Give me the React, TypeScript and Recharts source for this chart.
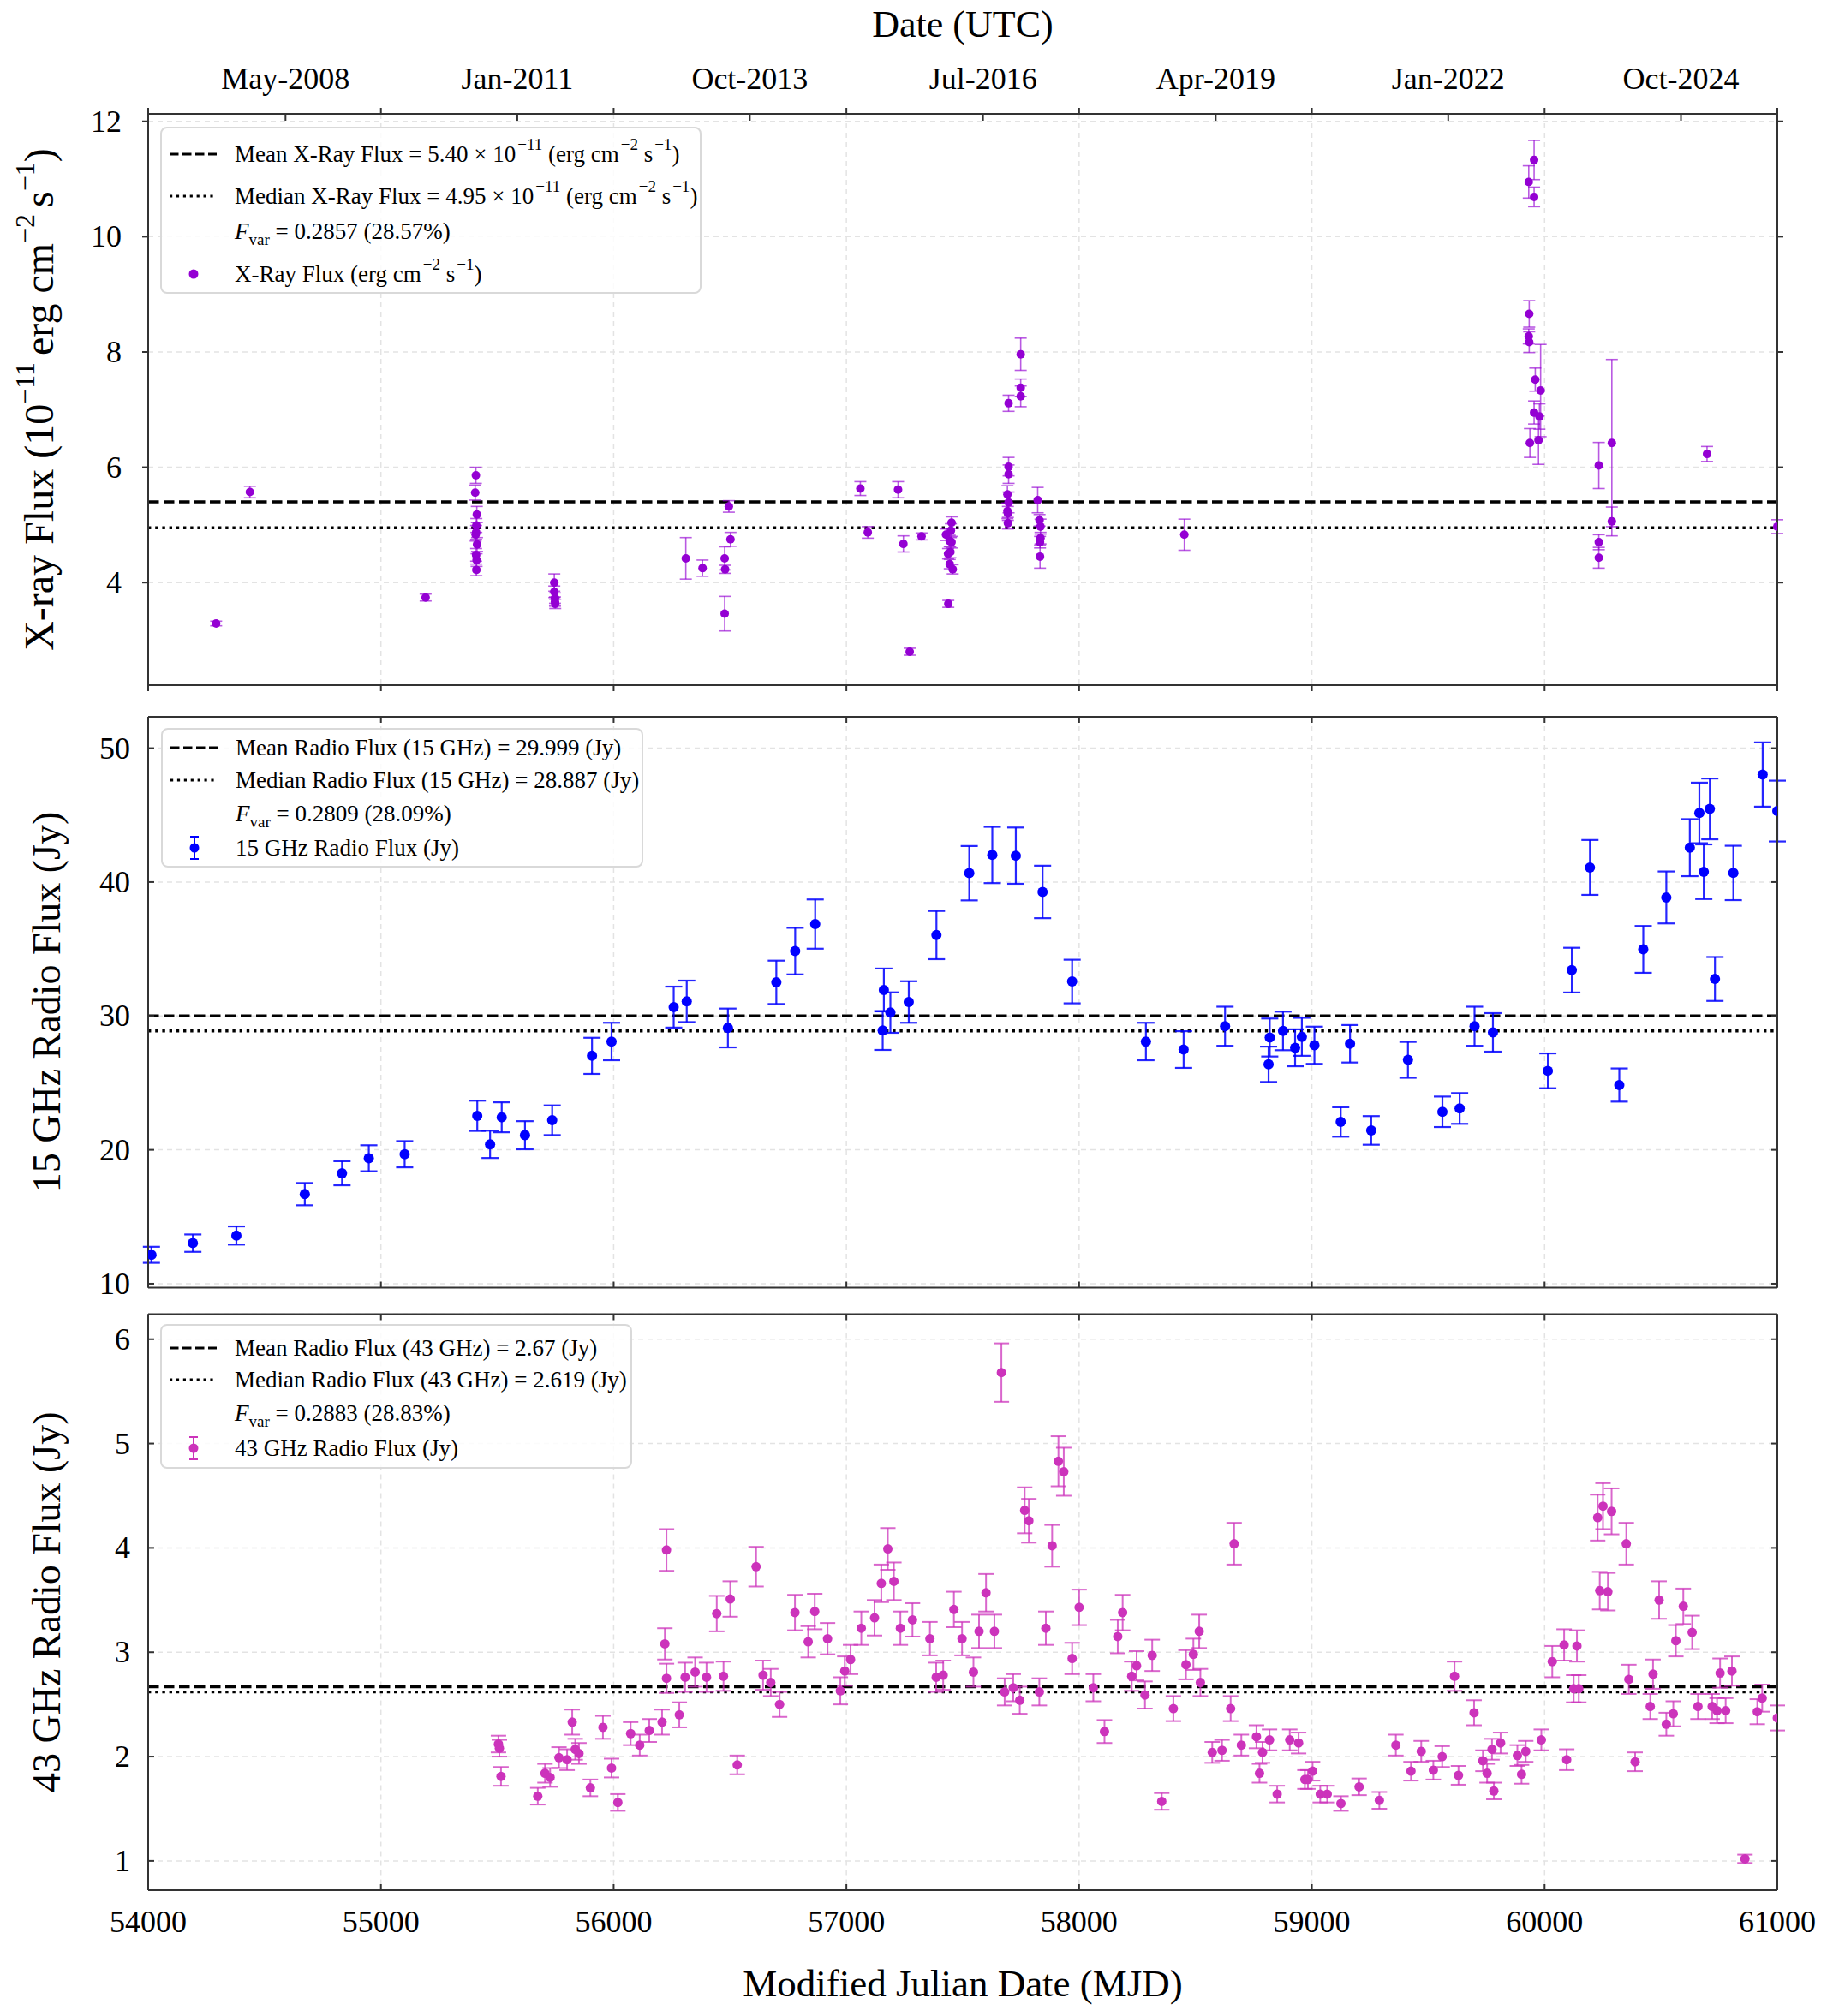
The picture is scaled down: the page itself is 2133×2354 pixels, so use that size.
import React from "react";
import {
  ScatterChart,
  Scatter,
  XAxis,
  YAxis,
  CartesianGrid,
  ErrorBar,
  ReferenceLine,
  Legend,
} from "recharts";

const SERIF = '"Liberation Serif", "Times New Roman", serif';
const FRAME = "#333333";
const GRID = "#e3e3e3";

// [MJD, flux, error]
const xrayPoints = [
  [54292, 3.29, 0.04], [54437, 5.57, 0.1], [55192, 3.74, 0.06],
  [55408, 5.86, 0.14], [55405, 5.56, 0.13], [55412, 5.18, 0.14], [55410, 4.99, 0.12],
  [55409, 4.87, 0.12], [55407, 4.83, 0.11], [55413, 4.66, 0.12], [55409, 4.48, 0.11],
  [55411, 4.39, 0.11], [55410, 4.22, 0.1],
  [55745, 4.0, 0.15], [55745, 3.84, 0.1], [55748, 3.73, 0.09], [55748, 3.67, 0.08], [55749, 3.63, 0.08],
  [56310, 4.42, 0.36], [56382, 4.25, 0.14], [56477, 4.42, 0.2], [56479, 4.23, 0.07],
  [56477, 3.46, 0.3], [56495, 5.32, 0.1], [56502, 4.75, 0.12],
  [57060, 5.63, 0.12], [57092, 4.87, 0.1], [57222, 5.61, 0.14], [57245, 4.67, 0.14],
  [57272, 2.8, 0.06], [57323, 4.8, 0.06],
  [57428, 4.83, 0.1], [57438, 3.63, 0.06], [57444, 4.72, 0.1], [57447, 4.53, 0.1],
  [57444, 4.32, 0.08], [57457, 4.23, 0.08], [57452, 5.04, 0.1], [57449, 4.9, 0.12],
  [57437, 4.5, 0.09], [57452, 4.7, 0.1],
  [57697, 7.11, 0.14], [57697, 6.01, 0.16], [57697, 5.88, 0.16], [57692, 5.53, 0.15],
  [57692, 5.24, 0.13], [57694, 5.2, 0.12], [57694, 5.03, 0.1], [57697, 5.39, 0.18],
  [57749, 7.96, 0.28], [57749, 7.38, 0.15], [57749, 7.23, 0.18],
  [57822, 5.43, 0.22], [57830, 5.08, 0.1], [57834, 4.97, 0.13], [57834, 4.77, 0.1],
  [57832, 4.7, 0.1], [57832, 4.45, 0.2],
  [58452, 4.83, 0.27],
  [59932, 10.95, 0.28], [59955, 11.33, 0.34], [59955, 10.69, 0.17], [59934, 8.66, 0.23],
  [59932, 8.27, 0.13], [59934, 8.17, 0.18], [59960, 7.52, 0.2], [59983, 7.33, 0.8],
  [59955, 6.95, 0.2], [59978, 6.88, 0.22], [59937, 6.42, 0.25], [59974, 6.47, 0.42],
  [60233, 6.03, 0.4], [60233, 4.7, 0.13], [60233, 4.43, 0.18],
  [60289, 6.42, 1.45], [60289, 5.06, 0.25], [60698, 6.23, 0.13], [61000, 4.97, 0.12],
];

const radio15Points = [
  [54014, 12.16, 0.6], [54192, 13.03, 0.65], [54379, 13.6, 0.68], [54673, 16.69, 0.83],
  [54833, 18.25, 0.9], [54948, 19.37, 0.97], [55102, 19.67, 0.98], [55414, 22.54, 1.13],
  [55469, 20.41, 1.02], [55519, 22.43, 1.12], [55619, 21.09, 1.05], [55736, 22.21, 1.11],
  [55907, 27.02, 1.35], [55991, 28.09, 1.4], [56258, 30.66, 1.53], [56314, 31.09, 1.55],
  [56491, 29.1, 1.45], [56699, 32.51, 1.62], [56780, 34.84, 1.74], [56866, 36.86, 1.84],
  [57156, 28.91, 1.45], [57161, 31.94, 1.6], [57189, 30.25, 1.51], [57268, 31.04, 1.55],
  [57387, 36.04, 1.8], [57528, 40.66, 2.03], [57627, 42.02, 2.1], [57728, 41.97, 2.1],
  [57843, 39.26, 1.96], [57970, 32.57, 1.63], [58287, 28.09, 1.4], [58449, 27.49, 1.37],
  [58627, 29.23, 1.46], [58814, 26.39, 1.32], [58819, 28.39, 1.42], [58876, 28.88, 1.44],
  [58928, 27.62, 1.38], [58957, 28.44, 1.42], [59011, 27.81, 1.39], [59124, 22.08, 1.1],
  [59164, 27.92, 1.4], [59255, 21.45, 1.07], [59413, 26.72, 1.34], [59561, 22.84, 1.14],
  [59635, 23.09, 1.15], [59699, 29.23, 1.46], [59778, 28.77, 1.44], [60014, 25.9, 1.3],
  [60117, 33.42, 1.67], [60195, 41.09, 2.05], [60321, 24.84, 1.24], [60424, 34.97, 1.75],
  [60523, 38.85, 1.94], [60624, 42.57, 2.13], [60665, 45.16, 2.26], [60684, 40.77, 2.04],
  [60710, 45.46, 2.27], [60732, 32.76, 1.64], [60811, 40.68, 2.03], [60937, 48.03, 2.4],
  [61000, 45.3, 2.27],
];

const radio43Points = [
  [55505, 2.12, 0.08], [55509, 2.08, 0.08], [55516, 1.81, 0.09], [55674, 1.62, 0.08],
  [55705, 1.84, 0.09], [55727, 1.8, 0.09], [55765, 1.99, 0.1], [55800, 1.97, 0.1],
  [55822, 2.33, 0.12], [55835, 2.07, 0.1], [55851, 2.03, 0.1], [55900, 1.7, 0.08],
  [55954, 2.28, 0.11], [55991, 1.89, 0.09], [56018, 1.56, 0.08], [56073, 2.22, 0.11],
  [56112, 2.11, 0.1], [56153, 2.25, 0.11], [56208, 2.33, 0.12], [56220, 3.08, 0.15],
  [56227, 3.98, 0.2], [56227, 2.75, 0.14], [56282, 2.4, 0.12], [56307, 2.76, 0.14],
  [56350, 2.81, 0.14], [56399, 2.76, 0.14], [56443, 3.37, 0.17], [56472, 2.77, 0.14],
  [56501, 3.51, 0.17], [56531, 1.92, 0.09], [56612, 3.82, 0.19], [56642, 2.78, 0.14],
  [56675, 2.71, 0.13], [56713, 2.5, 0.12], [56779, 3.38, 0.17], [56836, 3.1, 0.15],
  [56864, 3.39, 0.17], [56919, 3.13, 0.15], [56974, 2.63, 0.13], [56993, 2.82, 0.14],
  [57018, 2.93, 0.14], [57064, 3.23, 0.16], [57121, 3.33, 0.17], [57150, 3.66, 0.18],
  [57178, 3.99, 0.2], [57204, 3.68, 0.18], [57232, 3.23, 0.16], [57284, 3.31, 0.16],
  [57359, 3.13, 0.16], [57386, 2.76, 0.14], [57416, 2.78, 0.14], [57462, 3.41, 0.17],
  [57497, 3.13, 0.16], [57546, 2.81, 0.14], [57570, 3.2, 0.16], [57600, 3.57, 0.18],
  [57636, 3.2, 0.16], [57666, 5.68, 0.28], [57680, 2.62, 0.13], [57717, 2.66, 0.13],
  [57745, 2.54, 0.13], [57766, 4.36, 0.22], [57784, 4.26, 0.21], [57829, 2.62, 0.13],
  [57857, 3.23, 0.16], [57884, 4.02, 0.2], [57911, 4.83, 0.24], [57934, 4.73, 0.23],
  [57970, 2.94, 0.15], [58000, 3.43, 0.17], [58061, 2.66, 0.13], [58109, 2.24, 0.11],
  [58166, 3.15, 0.16], [58187, 3.38, 0.17], [58226, 2.77, 0.14], [58247, 2.87, 0.14],
  [58283, 2.59, 0.13], [58314, 2.97, 0.15], [58355, 1.57, 0.08], [58405, 2.46, 0.12],
  [58459, 2.88, 0.14], [58491, 2.98, 0.15], [58516, 3.2, 0.16], [58521, 2.71, 0.13],
  [58572, 2.04, 0.1], [58614, 2.06, 0.1], [58651, 2.46, 0.12], [58666, 4.04, 0.2],
  [58697, 2.11, 0.1], [58762, 2.19, 0.11], [58775, 1.84, 0.09], [58788, 2.04, 0.1],
  [58818, 2.16, 0.1], [58851, 1.64, 0.08], [58905, 2.16, 0.1], [58943, 2.13, 0.1],
  [58970, 1.78, 0.09], [58983, 1.78, 0.09], [59003, 1.86, 0.09], [59036, 1.64, 0.08],
  [59066, 1.64, 0.08], [59125, 1.55, 0.07], [59203, 1.71, 0.08], [59290, 1.58, 0.08],
  [59361, 2.11, 0.1], [59426, 1.86, 0.09], [59470, 2.05, 0.1], [59522, 1.87, 0.09],
  [59560, 2.0, 0.1], [59613, 2.77, 0.14], [59630, 1.82, 0.09], [59697, 2.42, 0.12],
  [59735, 1.96, 0.1], [59753, 1.84, 0.09], [59774, 2.07, 0.1], [59782, 1.67, 0.08],
  [59811, 2.13, 0.1], [59883, 2.01, 0.1], [59901, 1.83, 0.09], [59919, 2.05, 0.1],
  [59986, 2.16, 0.1], [60033, 2.91, 0.15], [60084, 3.07, 0.15], [60095, 1.97, 0.1],
  [60125, 2.65, 0.13], [60139, 3.06, 0.15], [60147, 2.65, 0.13], [60228, 4.29, 0.22],
  [60237, 3.59, 0.18], [60251, 4.4, 0.22], [60272, 3.58, 0.18], [60288, 4.35, 0.22],
  [60351, 4.04, 0.2], [60362, 2.74, 0.14], [60389, 1.95, 0.09], [60454, 2.48, 0.12],
  [60466, 2.79, 0.14], [60492, 3.5, 0.18], [60523, 2.31, 0.11], [60553, 2.41, 0.12],
  [60564, 3.11, 0.15], [60596, 3.44, 0.17], [60634, 3.19, 0.16], [60659, 2.48, 0.12],
  [60720, 2.48, 0.12], [60741, 2.44, 0.12], [60754, 2.8, 0.14], [60778, 2.44, 0.12],
  [60805, 2.82, 0.14], [60861, 1.02, 0.04], [60914, 2.43, 0.12], [60935, 2.56, 0.13],
  [61000, 2.37, 0.12],
];

const mjdTicks = [54000, 55000, 56000, 57000, 58000, 59000, 60000, 61000];
const dateTicks = [54590, 55586, 56585, 57587, 58587, 59586, 60586];
const dateLabels = ["May-2008", "Jan-2011", "Oct-2013", "Jul-2016", "Apr-2019", "Jan-2022", "Oct-2024"];

const xrayTicks = [4, 6, 8, 10, 12];
const radio15Ticks = [10, 20, 30, 40, 50];
const radio43Ticks = [1, 2, 3, 4, 5, 6];

const xrayMean = 5.4;
const xrayMedian = 4.95;
const radio15Mean = 29.999;
const radio15Median = 28.887;
const radio43Mean = 2.67;
const radio43Median = 2.619;

const toRows = (pts: number[][]) => pts.map(([mjd, flux, err]) => ({ mjd, flux, err }));

const TICK = 7;

const makeYTick = (side: "left" | "right", inward: boolean, labelGap: number | null) => (props: any) => {
  const { x, y, payload } = props;
  const dir = side === "left" ? 1 : -1;
  const x2 = inward ? x + dir * TICK : x - dir * TICK;
  return (
    <g>
      <line x1={x} y1={y} x2={x2} y2={y} stroke={FRAME} strokeWidth={2} />
      {labelGap !== null && (
        <text x={x - labelGap} y={y + 12} textAnchor="end" fontSize={36} fontFamily={SERIF} fill="#000">
          {payload.value}
        </text>
      )}
    </g>
  );
};

const makeBottomTick = (inward: boolean, showLabel: boolean) => (props: any) => {
  const { x, y, payload } = props;
  return (
    <g>
      <line x1={x} y1={y} x2={x} y2={inward ? y - TICK : y + TICK} stroke={FRAME} strokeWidth={2} />
      {showLabel && (
        <text x={x} y={y + 49} textAnchor="middle" fontSize={36} fontFamily={SERIF} fill="#000">
          {payload.value}
        </text>
      )}
    </g>
  );
};

// top axis: dates (inward, labelled) and MJD thousands (outward on panel 1, inward elsewhere)
const makeTopTick = (withDates: boolean) => (props: any) => {
  const { x, y, payload } = props;
  const di = dateTicks.indexOf(Number(payload.value));
  if (withDates && di >= 0) {
    return (
      <g>
        <line x1={x} y1={y} x2={x} y2={y + 8} stroke={FRAME} strokeWidth={2} />
        <text x={x} y={y - 29} textAnchor="middle" fontSize={36} fontFamily={SERIF} fill="#000">
          {dateLabels[di]}
        </text>
      </g>
    );
  }
  return (
    <g>
      <line x1={x} y1={y} x2={x} y2={withDates ? y - TICK : y + TICK} stroke={FRAME} strokeWidth={2} />
    </g>
  );
};

const supStyle: React.CSSProperties = { fontSize: 19, verticalAlign: "0.75em", lineHeight: 0, marginLeft: 2 };
const subStyle: React.CSSProperties = { fontSize: 19, verticalAlign: "-0.35em", lineHeight: 0 };

const units = (
  <>
    (erg cm<sup style={supStyle}>−2</sup> s<sup style={supStyle}>−1</sup>)
  </>
);
const fvar = (v: string) => (
  <>
    <i>F</i>
    <sub style={subStyle}>var</sub> = {v}
  </>
);

type Handle = "dash" | "dot" | "none" | "marker" | "markerErr";
type LegendRow = { handle: Handle; y: number; text: React.ReactNode };

function LegendBox({ width, height, rows, color }: { width: number; height: number; rows: LegendRow[]; color: string }) {
  return (
    <div
      style={{
        position: "relative",
        width,
        height,
        boxSizing: "border-box",
        border: "2px solid #d9d9d9",
        borderRadius: 8,
        background: "rgba(255,255,255,0.85)",
        fontFamily: SERIF,
        fontSize: 27,
        color: "#000",
      }}
    >
      {rows.map((r, i) => (
        <div key={i} style={{ position: "absolute", left: 0, top: r.y - 16, height: 32, width: "100%" }}>
          <svg width={80} height={32} style={{ position: "absolute", left: 0, top: 0 }}>
            {r.handle === "dash" && (
              <line x1={9} x2={64} y1={16} y2={16} stroke="#000" strokeWidth={3.2} strokeDasharray="10.5 4.5" />
            )}
            {r.handle === "dot" && (
              <line x1={9} x2={64} y1={16} y2={16} stroke="#000" strokeWidth={3.2} strokeDasharray="3.2 4.7" />
            )}
            {(r.handle === "marker" || r.handle === "markerErr") && <circle cx={37} cy={16} r={5.5} fill={color} />}
            {r.handle === "markerErr" && (
              <g stroke={color} strokeWidth={2}>
                <line x1={37} x2={37} y1={3} y2={29} />
                <line x1={32} x2={42} y1={3} y2={3} />
                <line x1={32} x2={42} y1={29} y2={29} />
              </g>
            )}
          </svg>
          <div style={{ position: "absolute", left: 85, top: 0, lineHeight: "32px", whiteSpace: "nowrap" }}>{r.text}</div>
        </div>
      ))}
    </div>
  );
}

const legendProps = {
  layout: "vertical" as const,
  align: "center" as const,
  verticalAlign: "middle" as const,
};

const axisLine = { stroke: FRAME, strokeWidth: 2 };

type PanelProps = {
  top: number;
  height: number;
  margin: { top: number; bottom: number };
  topAxisHeight: number;
  bottomAxisHeight: number;
  data: { mjd: number; flux: number; err: number }[];
  domain: [number, number];
  yTicks: number[];
  mean: number;
  median: number;
  color: string;
  radius: number;
  capWidth: number;
  errWidth: number;
  errOpacity: number;
  ticksOut: boolean;
  showDates: boolean;
  showMjdLabels: boolean;
  yTitle: React.ReactNode;
  xTitle?: React.ReactNode;
  legend: React.ReactNode;
  legendBox: { left: number; top: number; width: number; height: number };
};

function Panel(p: PanelProps) {
  const topTicks = p.showDates ? [...mjdTicks, ...dateTicks].sort((a, b) => a - b) : mjdTicks;
  return (
    <div style={{ position: "absolute", left: 0, top: p.top }}>
      <ScatterChart width={2133} height={p.height} margin={{ top: p.margin.top, bottom: p.margin.bottom, left: 93, right: 28 }}>
        <CartesianGrid xAxisId="bottom" yAxisId="left" stroke={GRID} strokeWidth={1.5} strokeDasharray="6 5" />
        <XAxis
          xAxisId="bottom"
          type="number"
          dataKey="mjd"
          domain={[54000, 61000]}
          allowDataOverflow
          ticks={mjdTicks}
          interval={0}
          height={p.bottomAxisHeight}
          tickSize={0}
          tickMargin={0}
          tickLine={false}
          axisLine={axisLine}
          tick={makeBottomTick(!p.ticksOut, p.showMjdLabels)}
          label={p.xTitle ? { content: () => p.xTitle } : undefined}
        />
        <XAxis
          xAxisId="top"
          orientation="top"
          type="number"
          dataKey="mjd"
          domain={[54000, 61000]}
          allowDataOverflow
          ticks={topTicks}
          interval={0}
          height={p.topAxisHeight}
          tickSize={0}
          tickMargin={0}
          tickLine={false}
          axisLine={axisLine}
          tick={makeTopTick(p.showDates)}
          label={
            p.showDates
              ? {
                  content: () => (
                    <text x={1124} y={43} textAnchor="middle" fontSize={44} fontFamily={SERIF} fill="#000">
                      Date (UTC)
                    </text>
                  ),
                }
              : undefined
          }
        />
        <YAxis
          yAxisId="left"
          type="number"
          dataKey="flux"
          domain={p.domain}
          allowDataOverflow
          ticks={p.yTicks}
          interval={0}
          width={80}
          tickSize={0}
          tickMargin={0}
          tickLine={false}
          axisLine={axisLine}
          tick={makeYTick("left", !p.ticksOut, p.ticksOut ? 31 : 21)}
          label={{ content: () => p.yTitle }}
        />
        <YAxis
          yAxisId="right"
          orientation="right"
          type="number"
          dataKey="flux"
          domain={p.domain}
          allowDataOverflow
          ticks={p.yTicks}
          interval={0}
          width={30}
          tickSize={0}
          tickMargin={0}
          tickLine={false}
          axisLine={axisLine}
          tick={makeYTick("right", !p.ticksOut, null)}
        />
        <ReferenceLine xAxisId="bottom" yAxisId="left" y={p.mean} stroke="#000" strokeWidth={3.4} strokeDasharray="12.5 5.5" />
        <ReferenceLine xAxisId="bottom" yAxisId="left" y={p.median} stroke="#000" strokeWidth={3.4} strokeDasharray="3.4 4.8" />
        {/* invisible twin so the top and right axes carry the same data */}
        <Scatter
          xAxisId="top"
          yAxisId="right"
          data={p.data}
          dataKey="flux"
          legendType="none"
          isAnimationActive={false}
          shape={() => <g />}
        />
        <Scatter
          xAxisId="bottom"
          yAxisId="left"
          data={p.data}
          dataKey="flux"
          fill={p.color}
          isAnimationActive={false}
          shape={(s: any) => <circle cx={s.cx} cy={s.cy} r={p.radius} fill={p.color} />}
        >
          <ErrorBar
            dataKey="err"
            direction="y"
            width={p.capWidth}
            stroke={p.color}
            strokeWidth={p.errWidth}
            strokeOpacity={p.errOpacity}
            isAnimationActive={false}
          />
        </Scatter>
        <Legend
          {...legendProps}
          wrapperStyle={{ left: p.legendBox.left, top: p.legendBox.top, width: p.legendBox.width, height: p.legendBox.height }}
          content={() => p.legend}
        />
      </ScatterChart>
    </div>
  );
}

const XRAY = "#9400D3";
const BLUE = "#0000FF";
const PINK = "#CC33BB";

const yTitleStyle = { fontFamily: SERIF, fill: "#000" };

export default function App() {
  return (
    <div
      style={{
        position: "absolute",
        left: 0,
        top: 0,
        width: 2133,
        height: 2354,
        background: "#fff",
        fontFamily: SERIF,
        overflow: "hidden",
      }}
    >
      <Panel
        top={0}
        height={840}
        margin={{ top: 93, bottom: 0 }}
        topAxisHeight={40}
        bottomAxisHeight={40}
        data={toRows(xrayPoints)}
        domain={[2.22, 12.13]}
        yTicks={xrayTicks}
        mean={xrayMean}
        median={xrayMedian}
        color={XRAY}
        radius={5}
        capWidth={7}
        errWidth={1.6}
        errOpacity={0.65}
        ticksOut
        showDates
        showMjdLabels={false}
        yTitle={
          <text transform="translate(62, 466.5) rotate(-90)" textAnchor="middle" fontSize={48} {...yTitleStyle}>
            X-ray Flux (10<tspan fontSize={32} dy={-22}>−11</tspan>
            <tspan dy={22} dx={8}>erg cm</tspan>
            <tspan fontSize={32} dy={-22}>−2</tspan>
            <tspan dy={22} dx={8}>s</tspan>
            <tspan fontSize={32} dy={-22}>−1</tspan>
            <tspan dy={22}>)</tspan>
          </text>
        }
        legendBox={{ left: 187, top: 148, width: 632, height: 195 }}
        legend={
          <LegendBox
            width={632}
            height={195}
            color={XRAY}
            rows={[
              { handle: "dash", y: 30, text: <>Mean X-Ray Flux = 5.40 × 10<sup style={supStyle}>−11</sup> {units}</> },
              { handle: "dot", y: 79, text: <>Median X-Ray Flux = 4.95 × 10<sup style={supStyle}>−11</sup> {units}</> },
              { handle: "none", y: 120, text: fvar("0.2857 (28.57%)") },
              { handle: "marker", y: 170, text: <>X-Ray Flux {units}</> },
            ]}
          />
        }
      />
      <Panel
        top={800}
        height={740}
        margin={{ top: 7, bottom: 6.5 }}
        topAxisHeight={30}
        bottomAxisHeight={30}
        data={toRows(radio15Points)}
        domain={[9.71, 52.34]}
        yTicks={radio15Ticks}
        mean={radio15Mean}
        median={radio15Median}
        color={BLUE}
        radius={6}
        capWidth={10}
        errWidth={2.2}
        errOpacity={0.85}
        ticksOut={false}
        showDates={false}
        showMjdLabels={false}
        yTitle={
          <text transform="translate(70, 370) rotate(-90)" textAnchor="middle" fontSize={46} {...yTitleStyle}>
            15 GHz Radio Flux (Jy)
          </text>
        }
        legendBox={{ left: 188, top: 50, width: 563, height: 163 }}
        legend={
          <LegendBox
            width={563}
            height={163}
            color={BLUE}
            rows={[
              { handle: "dash", y: 21, text: "Mean Radio Flux (15 GHz) = 29.999 (Jy)" },
              { handle: "dot", y: 59, text: "Median Radio Flux (15 GHz) = 28.887 (Jy)" },
              { handle: "none", y: 98, text: fvar("0.2809 (28.09%)") },
              { handle: "markerErr", y: 138, text: "15 GHz Radio Flux (Jy)" },
            ]}
          />
        }
      />
      <Panel
        top={1500}
        height={854}
        margin={{ top: 4.5, bottom: 87 }}
        topAxisHeight={30}
        bottomAxisHeight={60}
        data={toRows(radio43Points)}
        domain={[0.72, 6.24]}
        yTicks={radio43Ticks}
        mean={radio43Mean}
        median={radio43Median}
        color={PINK}
        radius={5.5}
        capWidth={9}
        errWidth={2}
        errOpacity={0.75}
        ticksOut={false}
        showDates={false}
        showMjdLabels
        yTitle={
          <text transform="translate(70, 370.75) rotate(-90)" textAnchor="middle" fontSize={46} {...yTitleStyle}>
            43 GHz Radio Flux (Jy)
          </text>
        }
        xTitle={
          <text x={1124} y={831} textAnchor="middle" fontSize={45} fontFamily={SERIF} fill="#000">
            Modified Julian Date (MJD)
          </text>
        }
        legendBox={{ left: 187, top: 46, width: 551, height: 169 }}
        legend={
          <LegendBox
            width={551}
            height={169}
            color={PINK}
            rows={[
              { handle: "dash", y: 26, text: "Mean Radio Flux (43 GHz) = 2.67 (Jy)" },
              { handle: "dot", y: 63, text: "Median Radio Flux (43 GHz) = 2.619 (Jy)" },
              { handle: "none", y: 102, text: fvar("0.2883 (28.83%)") },
              { handle: "markerErr", y: 143, text: "43 GHz Radio Flux (Jy)" },
            ]}
          />
        }
      />
    </div>
  );
}
